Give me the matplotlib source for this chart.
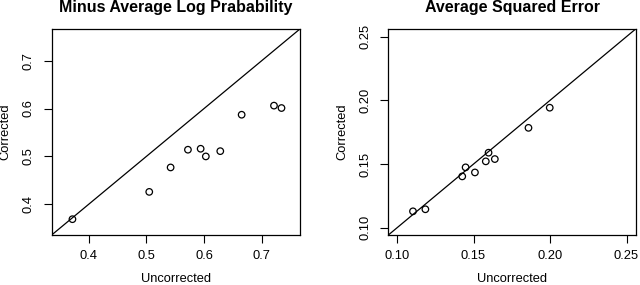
import matplotlib.pyplot as plt

plt.rcParams['font.family'] = ['Liberation Sans', 'DejaVu Sans']

# left panel: minus average log probability
mlp_uncorr = [0.372, 0.505, 0.542, 0.572, 0.594, 0.603, 0.628, 0.665, 0.721, 0.734]
mlp_corr = [0.369, 0.426, 0.477, 0.514, 0.516, 0.500, 0.511, 0.587, 0.606, 0.601]
mlp_ticks = [0.4, 0.5, 0.6, 0.7]
mlp_lim = (0.336, 0.766)

# right panel: average squared error
ase_uncorr = [0.1104, 0.1185, 0.1426, 0.1448, 0.1509, 0.1580, 0.1598, 0.1639, 0.1859, 0.1998]
ase_corr = [0.1129, 0.1145, 0.1403, 0.1474, 0.1434, 0.1521, 0.1589, 0.1539, 0.1784, 0.1942]
ase_ticks = [0.10, 0.15, 0.20, 0.25]
ase_lim = (0.0943, 0.2560)

panels = [
    ('Minus Average Log Prabability', mlp_uncorr, mlp_corr, mlp_ticks, mlp_lim, '{:.1f}'),
    ('Average Squared Error', ase_uncorr, ase_corr, ase_ticks, ase_lim, '{:.2f}'),
]

fig = plt.figure(figsize=(6.4, 2.85), dpi=100)
rects = [[0.0807, 0.1754, 0.388, 0.723], [0.6068, 0.1754, 0.3865, 0.723]]

for rect, (title, x, y, ticks, lim, fmt) in zip(rects, panels):
    ax = fig.add_axes(rect)
    ax.scatter(x, y, s=22, facecolors='none', edgecolors='black', linewidths=0.9, zorder=3)
    ax.plot(lim, lim, color='black', linewidth=0.9)
    ax.set_xlim(lim)
    ax.set_ylim(lim)
    ax.set_xticks(ticks)
    ax.set_yticks(ticks)
    ax.set_xticklabels([fmt.format(t) for t in ticks])
    ax.set_yticklabels([fmt.format(t) for t in ticks], rotation=90, va='center')
    ax.tick_params(direction='out', length=6, width=0.8, labelsize=9.3, pad=5)
    ax.tick_params(axis='y', pad=6)
    for sp in ax.spines.values():
        sp.set_linewidth(0.9)
    ax.set_xlabel('Uncorrected', fontsize=9.3, labelpad=8)
    ax.set_ylabel('Corrected', fontsize=9.3, labelpad=8)
    ax.set_title(title, fontsize=11.5, fontweight='bold', pad=12)

fig.savefig('out.png', dpi=100)
